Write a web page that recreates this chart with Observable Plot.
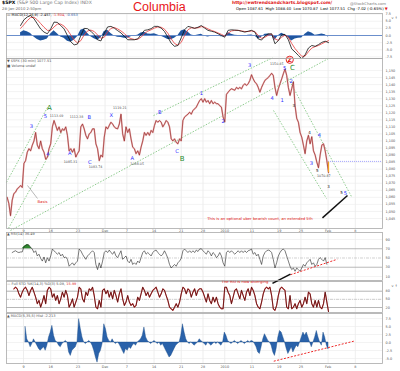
<!DOCTYPE html>
<html><head><meta charset="utf-8">
<script src="https://cdn.jsdelivr.net/npm/d3@7"></script>
<script src="https://cdn.jsdelivr.net/npm/@observablehq/plot@0.6"></script>
<style>
body{margin:0;background:#fff;}
#chart{position:relative;width:400px;height:371px;overflow:hidden;font-family:"DejaVu Sans",sans-serif;background:#fff;}
.t{position:absolute;white-space:nowrap;line-height:1;}
</style></head><body><div id="chart"></div>
<script>
// ---------- time base: 30-minute bars, Nov 9 2009 open = bar 0 ----------
const BARS_PER_DAY = 13;
const SAMPLE_BARS = 4;      // values were read every 4 bars (2 hours)
const FIRST_BAR = -55;      // bar number of sample 0
const X_DOMAIN = [-3.125, 66];

// week ticks (trading-session numbers) and their labels
const weekT = [0,5,10,15,19,24,29,33,37,42,47,51,56,61];
const weekLabels = ["9","16","23","Dec","7","14","21","28","2010","11","19","25","Feb","8"];

// ---------- price (30 min), sample 4 .. 196 ----------
const priceStart = 4;
const priceValues = [
1060,1055.6,1047,1058,1062.7,1063.7,1066,1067,1068.4,1067,
1084,1086,1092,1094.5,1093,1097,1100,1106,1097,1094.5,
1100,1094.5,1092,1087,1088.5,1094.5,1098,1110,1114.5,1111,
1107.5,1110,1106,1108.6,1107.5,1110,1104,1093,1094.5,1092,
1094.5,1088.6,1091,1093,1110,1112,1108.6,1104,1101.5,1105,
1106,1108.6,1108.6,1098,1094.5,1086,1090,1088.6,1102.7,1110,
1108.6,1111,1113.3,1112,1110,1109,1108.6,1112,1119,1105,
1100,1110,1106,1108.6,1101.5,1095.6,1094.5,1091,1093,1090,
1095.6,1100,1106,1104,1106,1104,1107.5,1106,1111,1114.5,
1113.3,1114.5,1113.3,1110,1112,1114.5,1113.3,1110,1101.5,1100,
1101.5,1099,1098,1101.5,1100,1114.5,1117,1118,1119,1120.4,
1119,1121.6,1122.8,1124,1126.4,1128.7,1130,1127.5,1130,1127.5,
1128.7,1126.4,1128.7,1126.4,1127.5,1126.5,1126.4,1125,1124,1117,
1113.5,1133,1134.6,1136,1137,1136.5,1136,1138,1137,1138,
1137,1139.4,1140.6,1139.4,1140.6,1143,1147,1144,1141.7,1140.6,
1138,1134.6,1138,1140.6,1143,1144,1145,1146.5,1148,1146.5,
1138,1132.3,1137,1140.6,1144,1147.7,1151,1146.5,1138,1132.3,
1137,1142,1125,1116,1113.3,1106,1102.7,1097,1091,1100,
1104,1098,1103,1093,1090,1085,1081,1090,1097,1098,
1093,1086,1077.5];
const lastBarHigh = 1085;
const lastLevel = 1085.5;

// ---------- top MACD(12,26,9), every 2 samples from sample 12 ----------
const macdStart = 12, macdStep = 2;
const macdLine = [
3.5,5.5,6.5,7.0,5.9,4.1,2.3,1.2,0.6,2.3,
4.7,4.6,3.5,2.3,0,-2.2,-3.3,-3.0,0,2.5,
2.4,1.5,0.3,-1.5,-1.9,0.8,3.0,3.2,2.6,1.7,
0.9,-0.3,-1.5,-1.5,-1.5,-1.2,0.3,1.8,2.0,2.4,
3.2,3.2,2.6,1.4,-0.6,-2.7,-3.8,-3.5,-0.8,2.0,
3.2,2.9,2.5,2.9,3.5,2.6,1.8,1.5,1.2,0.6,
0,-0.6,1.8,2.0,1.9,1.8,1.5,1.2,1.5,1.8,
1.2,-1.2,-1.6,-0.2,0.6,0.6,-2.9,-1.8,0.2,0.4,
-1.5,-4.7,-5.8,-7.0,-8.2,-6.8,-4.4,-3.5,-3.8,-3.2,
-2.4,-2.0,-2.5];
const macdSignal = [
2.5,3.8,5.2,6.3,6.4,5.5,4.2,2.9,1.8,1.8,
3.0,4.0,4.0,3.3,2.0,0.2,-1.6,-2.6,-1.8,0.2,
1.6,1.9,1.4,0.2,-1.0,-0.6,1.2,2.5,2.8,2.3,
1.6,0.7,-0.5,-1.1,-1.4,-1.3,-0.6,0.7,1.5,2.0,
2.6,3.0,2.9,2.2,0.8,-1.2,-2.8,-3.4,-2.4,0.0,
2.0,2.7,2.6,2.7,3.1,2.9,2.3,1.8,1.4,0.9,
0.4,-0.2,0.8,1.6,1.8,1.8,1.6,1.4,1.4,1.6,
1.4,0.0,-1.0,-0.6,0.1,0.5,-1.2,-1.7,-0.6,0.1,
-0.6,-2.8,-4.6,-6.0,-7.3,-7.2,-5.7,-4.4,-3.9,-3.5,
-2.9,-2.3,-1.8];
const macdHist = [
1.0,1.7,1.3,0.7,-0.5,-1.4,-1.9,-1.7,-1.2,0.5,
1.7,0.6,-0.5,-1.0,-2.0,-2.4,-1.7,-0.4,1.8,2.3,
0.8,-0.4,-1.1,-1.7,-0.9,1.4,1.8,0.7,-0.2,-0.6,
-0.7,-1.0,-1.0,-0.4,-0.1,0.1,0.9,1.1,0.5,0.4,
0.6,0.2,-0.3,-0.8,-1.4,-1.5,-1.0,-0.1,1.6,2.0,
1.2,0.2,-0.1,0.2,0.4,-0.3,-0.5,-0.3,-0.2,-0.3,
-0.4,-0.4,1.0,0.4,0.1,0,-0.1,-0.2,0.1,0.2,
-0.2,-1.2,-0.6,0.4,0.5,0.1,-1.7,-0.1,0.8,0.3,
-0.9,-1.9,-1.2,-1.0,-0.9,0.4,1.3,0.9,0.1,0.3,
0.5,0.3,-0.65];

// ---------- RSI(14), sample 7 .. 195 ----------
const rsiStart = 7;
const rsiValues = [
61.8,64,65.6,63,61.8,63,63,74.4,77,78.9,
78,73,69.3,61.8,65.6,54.4,58.2,49.3,43.3,52.2,
39.6,50.7,43.3,54.4,69.3,65.6,61.8,58.2,61.8,54.4,
58.2,50.7,52.2,47.1,32.2,36,39.6,34.4,39.6,43.3,
69.3,65.6,58.2,52.2,47.1,54.4,58.2,61.8,65.6,61.8,
36,24.9,39.6,28.4,43.3,61.8,65.6,61.8,67.1,61.8,
58.2,64,54.4,50.7,58.2,65.6,47.1,50.7,54.4,43.3,
39.6,47.1,36,39.6,36,43.3,39.6,50.7,61.8,65.6,
58.2,61.8,58.2,54.4,61.8,65.6,67.1,61.8,58.2,54.4,
58.2,65.6,58.2,49.3,36,28.4,32.2,36,32.2,39.6,
43.3,49.3,65.6,69.3,65.6,61.8,65.6,61.8,65.6,61.8,
67.1,64,69.3,70,65.6,61.8,58.2,65.6,61.8,54.4,
61.8,58.2,50.7,54.4,61.8,54.4,39.6,32.2,61.8,65.6,
61.8,65.6,61.8,58.2,61.8,65.6,61.8,65.6,61.8,65.6,
61.8,65.6,67.1,69.3,58.2,61.8,54.4,58.2,47.1,36,
54.4,61.8,65.6,67.1,65.6,61.8,47.1,28.4,39.6,54.4,
61.8,67.1,69.3,65.6,54.4,43.3,32.2,24.9,28.4,21.3,
28.4,24.9,21.3,28.4,36,32.2,39.6,43.3,47.1,36,
39.6,32.2,36,47.1,50.7,47.1,43.3,50.7,36.5];

// ---------- Full STO %K(14,3), sample 8 .. 196 ----------
const stoStart = 8;
const stoValues = [
88.8,94.7,88.8,70.4,58,76.4,88.8,94.7,83,64,
83,94.7,76.4,58,34,46,21.2,40,64,34,
83,94.7,88.8,58,70.4,46,64,34,52,76.4,
58,83,64,21.2,34,52,21.2,40,58,94.7,
88.8,52,40,76.4,64,88.8,83,94.7,64,21.2,
15.3,46,21.2,83,88.8,70.4,83,58,76.4,52,
83,64,40,70.4,88.8,52,27.6,40,64,40,
27.6,34,21.2,27.6,58,46,70.4,94.7,83,64,
76.4,58,70.4,83,88.8,94.7,76.4,58,70.4,88.8,
83,64,46,21.2,15.3,9.4,21.2,34,21.2,40,
70.4,94.7,88.8,70.4,88.8,83,58,76.4,88.8,64,
83,88.8,88.8,76.4,58,40,70.4,46,34,58,
40,58,34,21.2,15.3,15.3,94.7,94.7,76.4,64,
34,58,83,88.8,70.4,52,83,64,46,76.4,
88.8,64,94.7,83,64,34,21.2,15.3,40,70.4,
88.8,94.7,88.8,94.7,64,15.3,9.4,27.6,64,88.8,
94.7,88.8,83,21.2,15.3,64,15.3,21.2,34,15.3,
34,46,21.2,34,58,34,76.4,70.4,34,21.2,
46,21.2,46,21.2,15.3,34,76.4,40,5.1];

// ---------- MACD(5,35,5) histogram, sample 15 .. 196 ----------
const histStart = 15;
const histValues = [
4.8,1,0,-1.5,-0.5,1,0,-1,-2,-2.6,
-2,-1.5,-2.6,-1,1.6,3.1,5.2,2.1,0.5,0,
-1,-1.5,-0.5,0,0.5,0,-3.1,-4.2,-2.6,-2,
-1.5,0,7.3,4.2,1.6,0,-0.5,0,0.5,0,
-1,-2.6,-4.7,-6.3,-3.6,-2.6,-0.5,5.7,4.2,1.6,
0.5,0,1,0,-0.5,0,-0.5,-1.5,-2.6,-3.6,
-2,-2.6,-1.5,-2,-1,-0.5,-1,0,0.5,1,
2.1,4.7,1.6,0.5,0,-0.5,0,0.5,0,-0.5,
0,-1,-0.5,-1.5,-2.6,-3.6,-4.7,-4.2,-3.1,-2,
-1,-0.5,0,2.1,5.7,3.1,1,0,-0.5,0,
-0.5,-1,-0.5,0,1,0.5,0,-0.5,-1,0,
-0.5,-1,-0.5,0,-0.5,0,-0.5,-1,0,3.1,
2.1,0.5,0,-0.5,0,0.5,0,-0.5,0,0.5,
0,-0.5,0,0.5,0,0.5,0.3,-0.5,-1.5,-3.1,
-3.6,-1.5,1,2.6,1.6,0.5,0,-1,-3.1,-4.2,
-2,1.6,3.6,3.1,1.6,0,-2,-3.6,-2.6,-1.5,
-3.1,-2,-1,-1.5,0,1.6,3.1,2.1,3.1,1.6,
0,-1.5,0,1.6,3.6,1.6,0,-1,3.1,1.6,
-1,-2.2];

// ---------- annotations (session, value) ----------
const trendLines = [
  {t1:-3.13,p1:1070.6,t2:4.41,p2:1123.8},
  {t1:-2.76,p1:1038,t2:7.17,p2:1107.4},
  {t1:-2.39,p1:1036.5,t2:56.07,p2:1158.5},
  {t1:23.9,p1:1118,t2:45.77,p2:1159},
  {t1:48.71,p1:1144.3,t2:60.29,p2:1060.6},
  {t1:45.96,p1:1121.6,t2:55.7,p2:1059.2}
];
const waveLabels = [
  {t:4.78,p:1123.5,s:"A",kind:"major"},{t:4.04,p:1117.6,s:"5",kind:"minor"},
  {t:1.47,p:1110.3,s:"3",kind:"minor"},{t:4.47,p:1090.4,s:"4",kind:"minor"},
  {t:8.51,p:1091.3,s:"A",kind:"minor"},{t:12.08,p:1116.9,s:"B",kind:"minor"},
  {t:12.19,p:1085,s:"C",kind:"minor"},{t:16.12,p:1118.1,s:"X",kind:"minor"},
  {t:19.98,p:1087.8,s:"A",kind:"minor"},{t:25.06,p:1120,s:"B",kind:"minor"},
  {t:28.25,p:1092.6,s:"C",kind:"minor"},{t:29.17,p:1087.4,s:"B",kind:"major"},
  {t:32.72,p:1133.5,s:"1",kind:"minor"},{t:36.71,p:1113.8,s:"2",kind:"minor"},
  {t:41.6,p:1153.5,s:"3",kind:"minor"},{t:45.72,p:1130.4,s:"4",kind:"minor"},
  {t:48.0,p:1151.2,s:"5",kind:"minor"},{t:47.55,p:1128.7,s:"1",kind:"minor"},
  {t:49.45,p:1151.6,s:"C",kind:"major"},{t:49.2,p:1142.2,s:"2",kind:"minor"},
  {t:54.4,p:1103.9,s:"4",kind:"minor"},{t:52.94,p:1083.8,s:"3",kind:"minor"},
  {t:59.19,p:1062.6,s:"5",kind:"minor"},
  {t:56.07,p:1067.7,s:"3",kind:"sub"},{t:58.46,p:1063,s:"5",kind:"sub"},
  {t:49.7,p:1125,s:"3",kind:"sub"},{t:52.57,p:1106.2,s:"4",kind:"sub"},
  {t:53.99,p:1079,s:"5",kind:"sub"}
];
const zLabel = [{t:48.95,p:1157.6,s:"Z"}];
const valueBoxes = [
  {t:6.07,p:1117.6,s:"1113.69"},{t:8.64,p:1085,s:"1085.31"},
  {t:9.74,p:1116.9,s:"1112.38"},{t:13.24,p:1081.9,s:"1083.74"},
  {t:17.7,p:1123.5,s:"1119.21"},{t:20.9,p:1083.8,s:"1088.05"},
  {t:46.55,p:1154.6,s:"1150.45"},{t:55.2,p:1075.5,s:"1070.87"}
];
const priceCallouts = [
  {t:3.49,p:1056.7,s:"Basis",t0:0.74,p0:1068.4,t1:2.57,p1:1059.2,w:0.6,c:"#888"},
  {t:43.47,p:1044.8,s:"This is an optional uber bearish count, an extended 5th",t0:54.96,p0:1045.4,t1:59.56,p1:1061.3,w:1.5,c:"#111"}
];
const rsiCallouts = [
  {t:40.72,v:-2.3,s:"The RSI is now diverging",t0:45.77,v0:-4.9,t1:49.08,v1:15.1,w:1.5,c:"#111"}
];
const rsiDivergence = [{t1:49.08,v1:13.8,t2:57.67,v2:47.1}];
const histDivergence = [{t1:46.01,v1:-5.84,t2:60.72,v2:0.41}];

// ---------- helpers ----------
const tOf = k => (FIRST_BAR + SAMPLE_BARS * k) / BARS_PER_DAY;
const rows = (start, step, vals) => vals.map((v, i) => ({t: tOf(start + i * step), v}));
const price = rows(priceStart, 1, priceValues);
const macd = rows(macdStart, macdStep, macdLine);
const signal = rows(macdStart, macdStep, macdSignal);
const mhist = rows(macdStart, macdStep, macdHist);
const rsi = rows(rsiStart, 1, rsiValues);
const sto = rows(stoStart, 1, stoValues);
const hist = rows(histStart, 1, histValues);
const last = price[price.length - 1];

const chart = document.getElementById("chart");
const labelOf = new Map(weekT.map((t, i) => [t, weekLabels[i]]));
const FS = 3.4;
const kindColor = {major:"#1d8a2a", minor:"#2a2aff", sub:"#111"};
const kindSize = {major:7, minor:5.2, sub:4};

function addPanel(top, height, yDomain, yTicks, fmt, marks, opts = {}) {
  const mb = opts.mb || 0;
  const svg = Plot.plot({
    width: 400, height: height + mb,
    marginLeft: 6, marginRight: 18, marginTop: 0, marginBottom: mb,
    style: {background: "transparent", overflow: "visible", fontFamily: "DejaVu Sans", fontSize: FS + "px"},
    x: {domain: X_DOMAIN, axis: null},
    y: {domain: yDomain, axis: null},
    marks: [
      Plot.ruleX(weekT, {stroke: "#e2e2e2", strokeWidth: 0.6}),
      Plot.ruleY(opts.grid || yTicks, {stroke: "#ebebeb", strokeWidth: 0.6}),
      ...marks,
      Plot.axisY(yTicks, {anchor: "right", tickSize: 0, tickPadding: 3, tickFormat: fmt, fontSize: FS, fill: "#555"}),
      ...(mb ? [Plot.axisX(weekT, {anchor: "bottom", tickSize: 0, tickPadding: opts.tp ?? 1, tickFormat: t => labelOf.get(t), fontSize: FS, fill: "#555"})] : []),
      Plot.frame({stroke: "#aaaaaa", strokeWidth: 0.8})
    ]
  });
  svg.style.position = "absolute";
  svg.style.left = "0px";
  svg.style.top = top + "px";
  chart.appendChild(svg);
  return svg;
}

function boxify(svg, label, stroke, fill, pad) {
  svg.querySelectorAll(`g[aria-label="${label}"] text`).forEach(tx => {
    const b = tx.getBBox();
    const r = document.createElementNS("http://www.w3.org/2000/svg", "rect");
    r.setAttribute("x", b.x - pad); r.setAttribute("y", b.y - pad * 0.5);
    r.setAttribute("width", b.width + 2 * pad); r.setAttribute("height", b.height + pad);
    r.setAttribute("fill", fill); r.setAttribute("stroke", stroke); r.setAttribute("stroke-width", 0.5);
    if (tx.getAttribute("transform")) r.setAttribute("transform", tx.getAttribute("transform"));
    tx.parentNode.insertBefore(r, tx);
  });
}

// ---------- top MACD panel ----------
addPanel(13, 45, [-8.07, 7.72], [7.5,5,2.5,0,-2.5,-5,-7.5], d => d.toFixed(1), [
  Plot.areaY(mhist, {x: "t", y: "v", fill: "#1f56a0", clip: true}),
  Plot.ruleY([0], {stroke: "#6b8fcc", strokeWidth: 1.1}),
  Plot.lineY(signal, {x: "t", y: "v", stroke: "#e83a3a", strokeWidth: 0.8, clip: true}),
  Plot.lineY(macd, {x: "t", y: "v", stroke: "#111", strokeWidth: 0.8, clip: true})
]);

// ---------- price panel ----------
const priceTicks = d3.range(1045, 1151, 5);
const pSvg = addPanel(58, 170, [1037.9, 1158.5], priceTicks, d => d, [
  Plot.link(trendLines, {x1: "t1", y1: "p1", x2: "t2", y2: "p2", stroke: "#72bf72", strokeWidth: 0.8, strokeDasharray: "1.5,1.5"}),
  Plot.ruleY([lastLevel], {x1: last.t, x2: X_DOMAIN[1], stroke: "#8f8fff", strokeWidth: 0.8, strokeDasharray: "1,1"}),
  Plot.lineY(price, {x: "t", y: "v", stroke: "#eab0b0", strokeWidth: 1.6}),
  Plot.lineY(price, {x: "t", y: "v", stroke: "#8a1a1a", strokeWidth: 0.6}),
  Plot.ruleX([last], {x: "t", y1: lastBarHigh, y2: "v", stroke: "#f0a020", strokeWidth: 1.2}),
  Plot.text(valueBoxes, {x: "t", y: "p", text: "s", fontSize: 3.3, fill: "#555", ariaLabel: "valbox"}),
  Plot.text(waveLabels, {x: "t", y: "p", text: "s", fill: d => kindColor[d.kind], fontSize: d => kindSize[d.kind], fontWeight: d => d.kind === "major" ? "bold" : "normal"}),
  Plot.dot(zLabel, {x: "t", y: "p", r: 3.6, stroke: "#e01010", strokeWidth: 0.9, fill: "white"}),
  Plot.text(zLabel, {x: "t", y: "p", text: "s", fill: "#e01010", fontSize: 6, fontWeight: "bold"}),
  Plot.link(priceCallouts, {x1: "t0", y1: "p0", x2: "t1", y2: "p1", stroke: "c", strokeWidth: "w"}),
  Plot.text(priceCallouts, {x: "t", y: "p", text: "s", fill: "#e01010", fontSize: 3.8, ariaLabel: "callout"})
], {mb: 6});

// ---------- stochastics panel ----------
addPanel(281, 31, [1.6, 115.7], [80,50,20], d => d, [
  Plot.ruleY([80,20], {stroke: "#9c9c9c", strokeWidth: 0.7}),
  Plot.ruleY([50], {stroke: "#b5b5b5", strokeWidth: 0.6, strokeDasharray: "3,1,1,1"}),
  Plot.lineY(sto, {x: "t", y: "v", stroke: "#c81e1e", strokeWidth: 1.1}),
  Plot.lineY(sto, {x: "t", y: "v", stroke: "#1a1a1a", strokeWidth: 0.5})
]);

// ---------- MACD histogram panel ----------
const hSvg = addPanel(313, 50, [-6.56, 9.06], [7.5,5,2.5,0,-2.5,-5], d => d.toFixed(1), [
  Plot.areaY(hist, {x: "t", y: "v", fill: "#2a62aa", stroke: "#174a85", strokeWidth: 0.4}),
  Plot.link(histDivergence, {x1: "t1", y1: "v1", x2: "t2", y2: "v2", stroke: "#ee2a2a", strokeWidth: 1, strokeDasharray: "2,1.5"})
], {mb: 8, tp: 2});

// ---------- RSI panel (drawn last so its callout sits on top) ----------
const rSvg = addPanel(232, 48, [1.35, 105.1], [90,70,50,30,10], d => d, [
  Plot.ruleY([70,30], {stroke: "#9c9c9c", strokeWidth: 0.7}),
  Plot.ruleY([50], {stroke: "#b5b5b5", strokeWidth: 0.6, strokeDasharray: "3,1,1,1"}),
  Plot.areaY(rsi, {x: "t", y1: 70, y2: d => Math.max(d.v, 70), fill: "#2f8a2f"}),
  Plot.lineY(rsi, {x: "t", y: "v", stroke: "#222", strokeWidth: 0.6}),
  Plot.link(rsiDivergence, {x1: "t1", y1: "v1", x2: "t2", y2: "v2", stroke: "#ee2a2a", strokeWidth: 1, strokeDasharray: "2,1.5"}),
  Plot.link(rsiCallouts, {x1: "t0", y1: "v0", x2: "t1", y2: "v1", stroke: "c", strokeWidth: "w"}),
  Plot.text(rsiCallouts, {x: "t", y: "v", text: "s", fill: "#e01010", fontSize: 3.8, ariaLabel: "callout"})
], {grid: [90,10]});

boxify(pSvg, "valbox", "#999", "white", 0.6);
boxify(pSvg, "callout", "#c04040", "white", 1);
boxify(rSvg, "callout", "#c04040", "white", 1);

// ---------- header & panel legends (text) ----------
const texts = [
  [2, 0.8, 4.6, '<b>$SPX</b> <span style="color:#777">(S&amp;P 500 Large Cap Index) INDX</span>'],
  [2, 6.6, 3.8, '<span style="color:#666">28-Jan-2010 2:50pm</span>'],
  [133, 0.6, 12.5, '<span style="color:#e8161b;font-family:\'Liberation Sans\'">Columbia</span>'],
  [232, 1.2, 4.4, '<span style="color:#e01818;font-weight:bold">http://ewtrendsandcharts.blogspot.com/</span>'],
  [350, 1.5, 3.8, '<span style="color:#777">@StockCharts.com</span>'],
  [236, 7.4, 3.8, 'Open 1087.61 &nbsp;High 1088.40 &nbsp;Low 1070.87 &nbsp;Last 1077.51 &nbsp;Chg -7.02 (-0.65%) <span style="color:#e01818">&#9660;</span>'],
  [7, 14.2, 3.5, '<b>&#8212;</b> MACD(12,26,9) -2.457, <span style="color:#e03030">-1.804,</span> <span style="color:#2a5aa8">-0.653</span>'],
  [7, 59.8, 3.5, '<span style="color:#555">&#9660; $SPX (30 min) 1077.51</span>'],
  [7, 64.6, 3.5, '<span style="color:#555">&#9632; Volume undef</span>'],
  [7, 233.2, 3.5, '<span style="color:#555">&#9650; RSI(14) 36.49</span>'],
  [7, 282.6, 3.5, '<span style="color:#555">&#8212; Full STO %K(14,3) %D(3) 5.09, </span><span style="color:#e03030">15.99</span>'],
  [7, 314.6, 3.5, '<span style="color:#555">&#9650; MACD(5,35,5) Hist -2.213</span>']
];
for (const [x, y, fs, html] of texts) {
  const d = document.createElement("div");
  d.className = "t";
  d.style.left = x + "px"; d.style.top = y + "px"; d.style.fontSize = fs + "px";
  d.innerHTML = html;
  chart.appendChild(d);
}
</script></body></html>
